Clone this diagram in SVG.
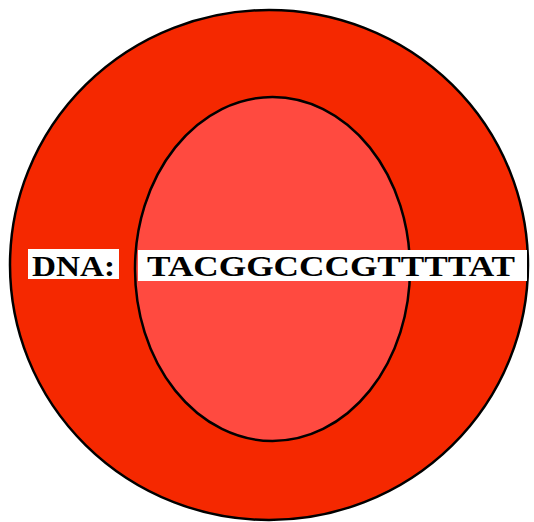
<svg xmlns="http://www.w3.org/2000/svg" width="534" height="522" viewBox="0 0 534 522">
<style>
.lbl{font-family:"Liberation Serif","Times New Roman",serif;font-weight:bold;font-size:30px;fill:#000}
.box{fill:#fff}
</style>
<rect width="534" height="522" fill="#fff"/>
<g id="outer"><ellipse cx="269" cy="265" rx="259" ry="255" fill="#f52800" stroke="#000" stroke-width="2.5"/></g>
<g id="inner"><ellipse cx="272.5" cy="269" rx="137.5" ry="172" fill="#ff4a40" stroke="#000" stroke-width="2.5"/></g>
<g id="dna-label">
<rect class="box" x="28" y="249" width="91" height="30"/>
<text class="lbl" x="32" y="276" textLength="83" lengthAdjust="spacingAndGlyphs">DNA:</text>
</g>
<g id="sequence">
<rect class="box" x="138" y="250" width="389" height="31"/>
<text class="lbl" x="147" y="276" textLength="368" lengthAdjust="spacingAndGlyphs">TACGGCCCGTTTTAT</text>
</g>
</svg>
